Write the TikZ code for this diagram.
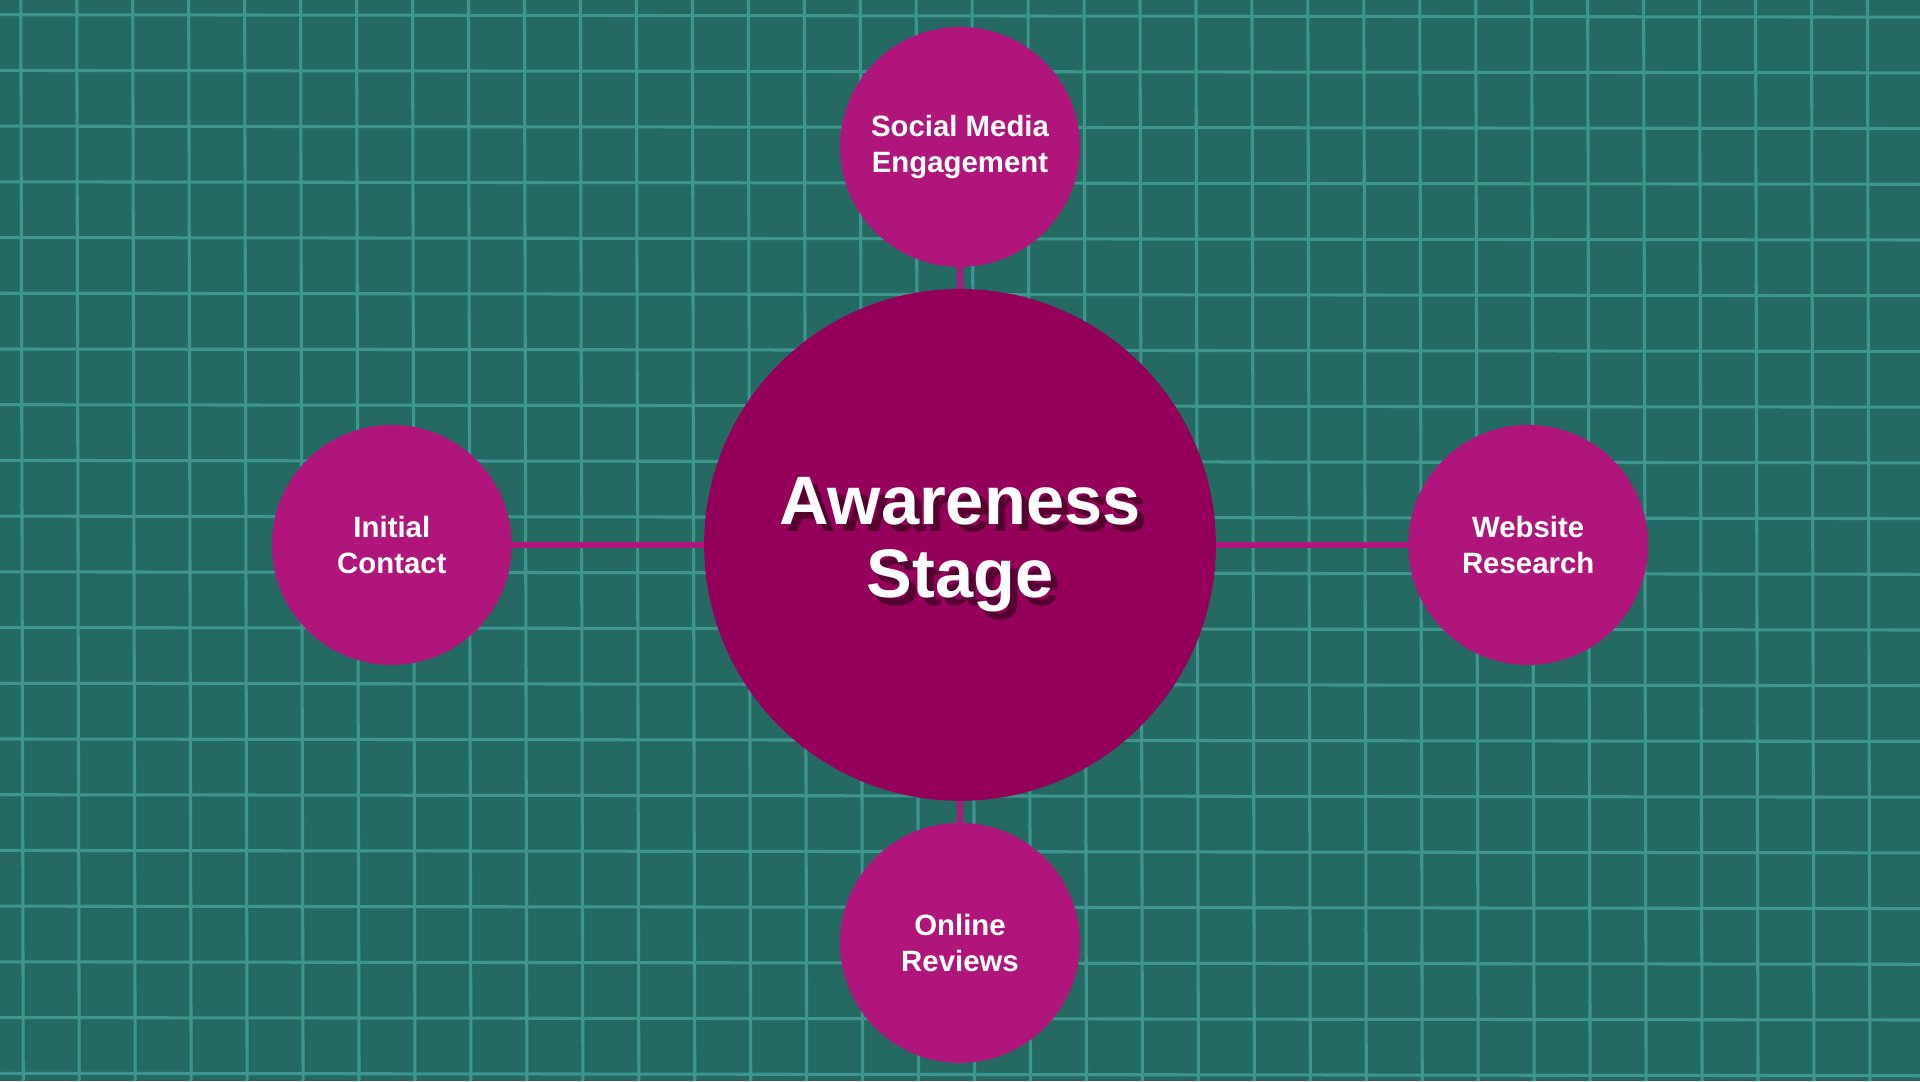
\documentclass[tikz,border=0pt]{standalone}
\usepackage{fontspec}
\setmainfont{Liberation Sans}
\begin{document}
\begin{tikzpicture}[x=1pt,y=-1pt,
  small/.style={circle,fill=smallc,minimum size=196pt,inner sep=0pt,text=white,align=center,font=\fontsize{24}{29}\selectfont\bfseries},
  link/.style={draw=smallc,line width=5pt}]
\definecolor{bg}{HTML}{246A63}
\definecolor{grid}{HTML}{3C968D}
\definecolor{bigc}{HTML}{95005A}
\definecolor{smallc}{HTML}{AF157A}
\definecolor{shad}{HTML}{55002F}
\fill[bg] (0,0) rectangle (1568,883);
\useasboundingbox (0,0) rectangle (1568,883);
\foreach \i in {0,...,34} \draw[grid,line width=2.5pt] ({17+45.7*\i},0) -- ({19+45.7*\i},883);
\foreach \j in {0,...,19} \draw[grid,line width=2.5pt] (0,{12+45.5*\j}) -- (1568,{14+45.5*\j});
\coordinate (c) at (784,445);
\node[small] (t) at (784,120) {Social Media\\Engagement};
\node[small] (l) at (320,445) {Initial\\Contact};
\node[small] (r) at (1248,445) {Website\\Research};
\node[small] (b) at (784,770) {Online\\Reviews};
\node[circle,minimum size=418pt,inner sep=0pt] (m) at (c) {};
\draw[link] (t) -- (m); \draw[link] (l) -- (m); \draw[link] (r) -- (m); \draw[link] (b) -- (m);
\fill[bigc] (c) circle (209);
\node[text=shad,align=center,font=\fontsize{56}{60}\selectfont\bfseries] at (790,451) {Awareness\\Stage};
\node[text=white,align=center,font=\fontsize{56}{60}\selectfont\bfseries] (mt) at (c) {Awareness\\Stage};
\end{tikzpicture}
\end{document}
